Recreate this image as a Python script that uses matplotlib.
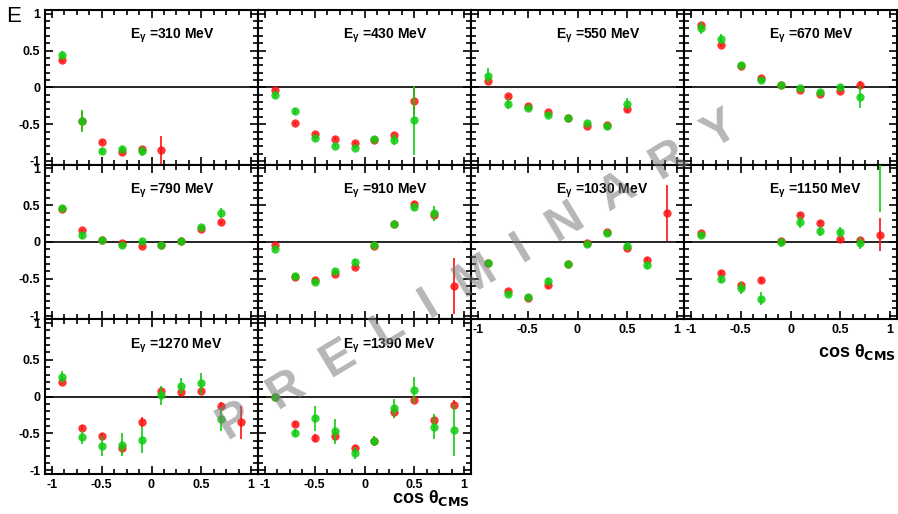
import numpy as np
import matplotlib
matplotlib.use("Agg")
import matplotlib.pyplot as plt
from matplotlib.ticker import MultipleLocator

nan = np.nan

# bin centres in cos(theta_CMS)
cos_bins = [-0.9, -0.7, -0.5, -0.3, -0.1, 0.1, 0.3, 0.5, 0.7, 0.9]
energies = [310, 430, 550, 670, 790, 910, 1030, 1150, 1270, 1390]

# red data set (one row per photon energy)
red_E = [
    [0.37, -0.46, -0.74, -0.88, -0.84, -0.85, nan, nan, nan, nan],
    [-0.04, -0.49, -0.64, -0.70, -0.76, -0.72, -0.65, -0.18, nan, nan],
    [0.09, -0.12, -0.25, -0.34, -0.42, -0.52, -0.51, -0.30, nan, nan],
    [0.84, 0.57, 0.29, 0.13, 0.03, -0.04, -0.09, -0.05, 0.03, nan],
    [0.45, 0.16, 0.03, -0.01, -0.05, -0.035, 0.02, 0.18, 0.27, nan],
    [-0.045, -0.48, -0.51, -0.44, -0.34, -0.06, 0.24, 0.52, 0.37, -0.60],
    [-0.29, -0.66, -0.76, -0.59, -0.30, -0.01, 0.14, -0.08, -0.24, 0.40],
    [0.12, -0.42, -0.58, -0.52, 0.02, 0.37, 0.26, 0.04, 0.03, 0.10],
    [0.195, -0.42, -0.54, -0.70, -0.34, 0.08, 0.06, 0.08, -0.12, -0.35],
    [0.0, -0.37, -0.56, -0.54, -0.70, -0.60, -0.21, -0.04, -0.32, -0.11],
]
red_err = [
    [0.02, 0.12, 0.02, 0.02, 0.03, 0.19, nan, nan, nan, nan],
    [0.02, 0.02, 0.02, 0.02, 0.02, 0.02, 0.03, 0.20, nan, nan],
    [0.02, 0.02, 0.02, 0.02, 0.02, 0.02, 0.02, 0.03, nan, nan],
    [0.03, 0.02, 0.02, 0.02, 0.02, 0.02, 0.02, 0.02, 0.05, nan],
    [0.02, 0.02, 0.02, 0.02, 0.02, 0.02, 0.02, 0.02, 0.02, nan],
    [0.02, 0.02, 0.02, 0.02, 0.02, 0.02, 0.02, 0.03, 0.03, 0.38],
    [0.02, 0.02, 0.02, 0.03, 0.02, 0.02, 0.02, 0.03, 0.03, 0.38],
    [0.02, 0.03, 0.03, 0.03, 0.02, 0.02, 0.02, 0.02, 0.02, 0.22],
    [0.02, 0.03, 0.05, 0.08, 0.07, 0.05, 0.05, 0.05, 0.05, 0.22],
    [0.02, 0.03, 0.05, 0.06, 0.04, 0.07, 0.08, 0.05, 0.06, 0.07],
]

# green data set
green_E = [
    [0.445, -0.46, -0.86, -0.84, -0.86, nan, nan, nan, nan, nan],
    [-0.10, -0.32, -0.69, -0.79, -0.82, -0.70, -0.71, -0.45, nan, nan],
    [0.16, -0.22, -0.28, -0.37, -0.42, -0.49, -0.53, -0.22, nan, nan],
    [0.81, 0.66, 0.31, 0.10, 0.03, -0.01, -0.06, 0.005, -0.13, nan],
    [0.46, 0.09, 0.03, -0.04, 0.02, -0.035, 0.02, 0.20, 0.395, nan],
    [-0.095, -0.46, -0.54, -0.40, -0.27, -0.04, 0.24, 0.48, 0.39, nan],
    [-0.29, -0.70, -0.75, -0.53, -0.30, -0.03, 0.12, -0.05, -0.31, nan],
    [0.09, -0.50, -0.62, -0.77, -0.005, 0.27, 0.145, 0.13, -0.015, 1.25],
    [0.27, -0.55, -0.67, -0.65, -0.59, 0.02, 0.14, 0.18, -0.31, nan],
    [-0.01, -0.49, -0.29, -0.47, -0.76, -0.60, -0.16, 0.09, -0.41, -0.45],
]
green_err = [
    [0.05, 0.15, 0.04, 0.04, 0.07, nan, nan, nan, nan, nan],
    [0.05, 0.04, 0.02, 0.02, 0.02, 0.02, 0.07, 0.47, nan, nan],
    [0.10, 0.08, 0.03, 0.03, 0.02, 0.02, 0.03, 0.08, nan, nan],
    [0.08, 0.07, 0.04, 0.03, 0.02, 0.02, 0.03, 0.03, 0.15, nan],
    [0.03, 0.05, 0.02, 0.02, 0.02, 0.02, 0.02, 0.03, 0.07, nan],
    [0.03, 0.04, 0.03, 0.04, 0.04, 0.03, 0.04, 0.05, 0.10, nan],
    [0.03, 0.04, 0.03, 0.04, 0.03, 0.03, 0.04, 0.04, 0.05, nan],
    [0.05, 0.05, 0.08, 0.09, 0.06, 0.08, 0.07, 0.07, 0.08, 0.84],
    [0.08, 0.09, 0.13, 0.16, 0.18, 0.13, 0.11, 0.14, 0.15, nan],
    [0.05, 0.05, 0.17, 0.17, 0.08, 0.07, 0.13, 0.18, 0.17, 0.35],
]

plt.rcParams["font.family"] = ["Liberation Sans", "DejaVu Sans"]
plt.rcParams["font.weight"] = "bold"
plt.rcParams["mathtext.default"] = "regular"

W, H = 898, 514
fig = plt.figure(figsize=(W / 100, H / 100), dpi=100)
gs = fig.add_gridspec(3, 4, left=45 / W, right=897 / W, top=1 - 10 / H,
                      bottom=1 - 474 / H, wspace=0, hspace=0)

RED = "#ff1010"
GREEN = "#10cc10"

for i, energy in enumerate(energies):
    row, col = divmod(i, 4)
    ax = fig.add_subplot(gs[row, col])
    ax.set_xlim(-1.07, 1.07)
    ax.set_ylim(-1.05, 1.05)
    ax.axhline(0, color="black", lw=1.2, zorder=1)

    ax.errorbar(cos_bins, red_E[i], yerr=red_err[i], fmt="o", color=RED,
                ms=6, mew=0, elinewidth=1.4, capsize=0, alpha=0.85, zorder=3)
    ax.errorbar(cos_bins, green_E[i], yerr=green_err[i], fmt="o", color=GREEN,
                ms=6, mew=0, elinewidth=1.4, capsize=0, alpha=0.85, zorder=4)

    ax.text(0.40, 0.83, r"E$_{\gamma}$ =%d MeV" % energy, transform=ax.transAxes,
            fontsize=10, fontweight="bold", va="center", ha="left")

    ax.xaxis.set_major_locator(MultipleLocator(0.5))
    ax.xaxis.set_minor_locator(MultipleLocator(0.125))
    ax.yaxis.set_major_locator(MultipleLocator(0.5))
    ax.yaxis.set_minor_locator(MultipleLocator(0.1))
    ax.tick_params(which="both", direction="in", top=True, right=True,
                   labelsize=9, width=1.2)
    ax.tick_params(which="major", length=6)
    ax.tick_params(which="minor", length=3.5)
    ax.xaxis.set_major_formatter(plt.FuncFormatter(lambda v, p: "%g" % v))
    ax.yaxis.set_major_formatter(plt.FuncFormatter(lambda v, p: "%g" % v))
    for s in ax.spines.values():
        s.set_linewidth(1.5)

    show_x = row == 2 or i in (6, 7)
    ax.tick_params(labelbottom=show_x, labelleft=(col == 0))
    for lab in ax.get_xticklabels() + ax.get_yticklabels():
        lab.set_fontweight("bold")

# axis title E
fig.text(6 / W, 1 - 16 / H, "E", fontsize=16, fontweight="normal",
         ha="left", va="center")

# cos theta labels
xlabel = r"cos $\theta_{\mathbf{CMS}}$"
fig.text(896 / W, 1 - 352 / H, xlabel, fontsize=13, fontweight="bold",
         ha="right", va="center")
fig.text(470 / W, 1 - 498 / H, xlabel, fontsize=13, fontweight="bold",
         ha="right", va="center")

# PRELIMINARY watermark across the panels
fig.text(478 / W, 1 - 276 / H, "P  R  E  L  I  M  I  N  A  R  Y",
         fontsize=35, fontweight="bold", color="#7a7a7a", alpha=0.55,
         rotation=31, rotation_mode="anchor", ha="center", va="center",
         zorder=10)

fig.savefig("out.png", dpi=100)
